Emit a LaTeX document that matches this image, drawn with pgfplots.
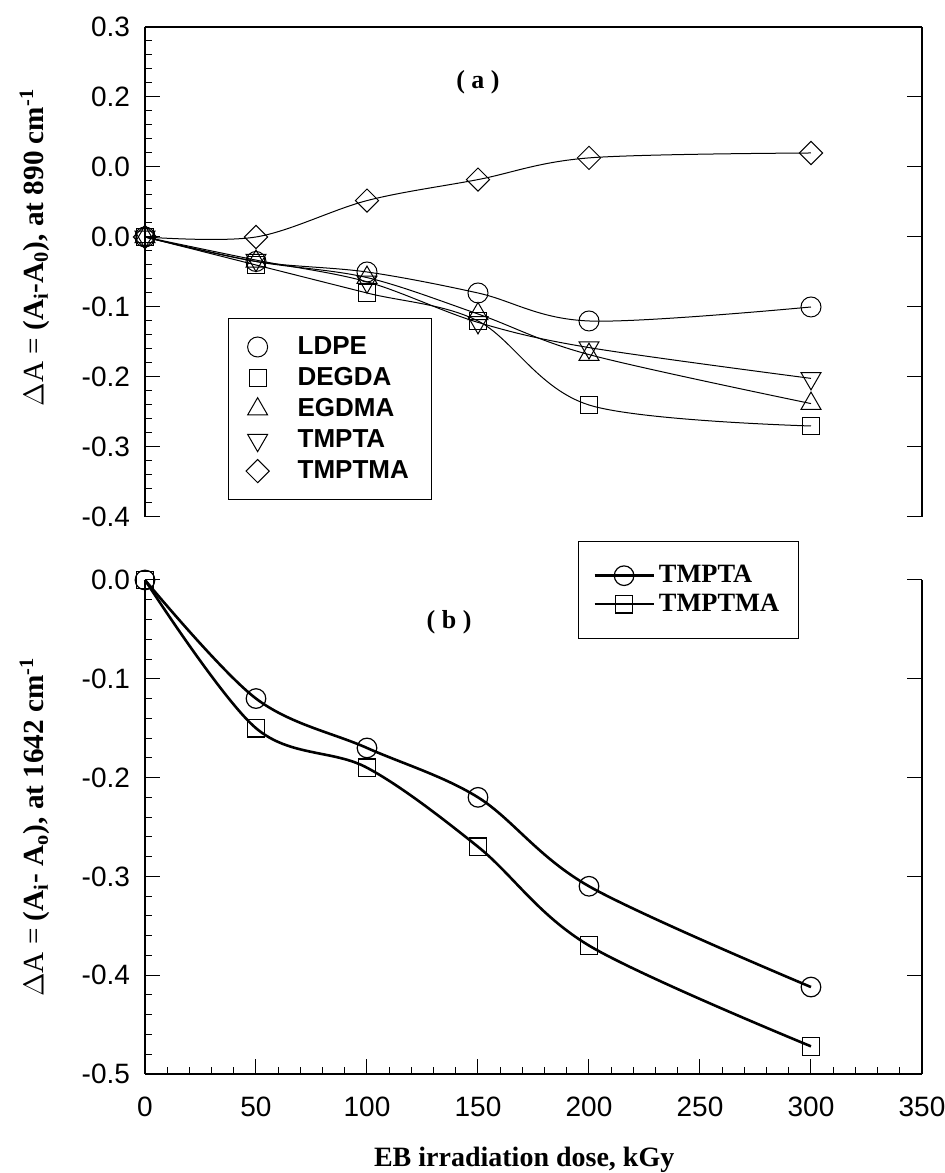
\documentclass[border=0pt]{standalone}
\usepackage{pgfplots}
\pgfplotsset{compat=1.18}
\usepackage{fontspec}
\setmainfont{Liberation Serif}
\newfontfamily\arial{Liberation Sans}

\begin{document}
\begin{tikzpicture}
\useasboundingbox (0,0) rectangle (472pt,586.5pt);
\pgfplotsset{
  common/.style={
    scale only axis, width=388.5pt,
    xmin=0, xmax=350,
    tick align=inside,
    major tick length=7.5pt, minor tick length=3.5pt,
    every tick/.style={black, line width=0.5pt},
    axis line style={line width=1pt},
    /pgf/number format/assume math mode=true,
    ticklabel style={font=\arial\fontsize{14}{16}\selectfont},
    yticklabel style={xshift=-4pt},
    xticklabel style={yshift=-8pt},
    clip=false,
  },
  thinser/.style={black, line width=0.5pt, smooth, tension=0.55,
    mark options={solid, fill=white, line width=0.5pt}},
  thickser/.style={black, line width=1.3pt, smooth, tension=0.55,
    mark options={solid, fill=white, line width=0.6pt}},
}
% ---------------- top panel (a) ----------------
\begin{axis}[common, at={(72.5pt,573pt)}, anchor=north west, height=245pt,
  ymin=-0.4, ymax=0.3,
  axis x line*=top, xtick=\empty,
  axis y line*=left,
  ytick={-0.4,-0.3,-0.2,-0.1,0,0.1,0.2,0.3},
  yticklabels={-0.4,-0.3,-0.2,-0.1,0.0,0.0,0.2,0.3},
  minor y tick num=4,
  ylabel={$\Delta$A = {\bfseries (A\textsubscript{i}-A\textsubscript{0}), at 890 cm\textsuperscript{-1}}},
  every axis y label/.style={at={(axis description cs:-0.142,0.55)}, rotate=90, anchor=center, font=\fontsize{14.6}{16}\selectfont},
  legend image code/.code={\path[draw=none,fill=none] (0pt,-1pt) rectangle (28.5pt,1pt);
    \draw[mark repeat=2,mark phase=2,#1,only marks] plot coordinates {(0pt,0pt) (10.5pt,0pt) (21pt,0pt)};},
  legend style={at={(axis description cs:0.107,0.406)}, anchor=north west, draw=black, line width=0.5pt,
    font=\arial\bfseries\fontsize{13}{15}\selectfont, inner xsep=4pt, inner ysep=7pt, row sep=1pt,
    /tikz/every even column/.append style={column sep=0pt}},
  legend cell align=left,
]
\addplot[thinser, mark=o, mark size=5pt] coordinates {(0,0) (50,-0.035) (100,-0.05) (150,-0.08) (200,-0.12) (300,-0.10)};
\addlegendentry{LDPE}
\addplot[thinser, mark=square, mark size=4.25pt] coordinates {(0,0) (50,-0.04) (100,-0.08) (150,-0.12) (200,-0.24) (300,-0.27)};
\addlegendentry{DEGDA}
\addplot[thinser, mark=triangle, mark size=5.75pt] coordinates {(0,0) (50,-0.035) (100,-0.058) (150,-0.11) (200,-0.168) (300,-0.238)};
\addlegendentry{EGDMA}
\addplot[thinser, mark=triangle, mark size=5.75pt, mark options={rotate=180}] coordinates {(0,0) (50,-0.033) (100,-0.064) (150,-0.122) (200,-0.158) (300,-0.202)};
\addlegendentry{TMPTA}
\addplot[thinser, mark=square, mark size=4.1pt, mark options={rotate=45}] coordinates {(0,0) (50,0) (100,0.052) (150,0.082) (200,0.113) (300,0.12)};
\addlegendentry{TMPTMA\hspace*{5.5pt}}
\node[font=\bfseries\fontsize{13}{15}\selectfont] at (axis cs:150,0.221) {( a )};
\end{axis}
\begin{axis}[common, at={(72.5pt,573pt)}, anchor=north west, height=245pt,
  ymin=-0.4, ymax=0.3,
  axis x line=none, axis y line*=right,
  ytick={-0.4,-0.3,-0.2,-0.1,0,0.1,0.2,0.3}, yticklabels={},
]
\end{axis}
% ---------------- bottom panel (b) ----------------
\begin{axis}[common, at={(72.5pt,296.5pt)}, anchor=north west, height=247pt,
  ymin=-0.5, ymax=0,
  axis x line*=bottom, axis y line*=left,
  xtick={0,50,100,150,200,250,300,350},
  xticklabels={0,50,100,150,200,250,300,350},
  minor x tick num=4,
  ytick={-0.5,-0.4,-0.3,-0.2,-0.1,0},
  yticklabels={-0.5,-0.4,-0.3,-0.2,-0.1,0.0},
  minor y tick num=4,
  xlabel={EB irradiation dose, kGy},
  every axis x label/.style={at={(axis description cs:0.488,-0.174)}, anchor=center, font=\bfseries\fontsize{14}{16}\selectfont},
  ylabel={$\Delta$A = {\bfseries (A\textsubscript{i}- A\textsubscript{o}), at 1642 cm\textsuperscript{-1}}},
  every axis y label/.style={at={(axis description cs:-0.142,0.5)}, rotate=90, anchor=center, font=\fontsize{14.6}{16}\selectfont},
  legend image code/.code={\draw[mark repeat=2,mark phase=2,#1] plot coordinates {(0pt,0pt) (14.75pt,0pt) (29.5pt,0pt)};},
  legend style={at={(axis description cs:0.557,1.079)}, anchor=north west, draw=black, line width=0.5pt,
    font=\bfseries\fontsize{13.2}{15}\selectfont, inner xsep=7.5pt, inner ysep=10pt, row sep=0pt,
    /tikz/every even column/.append style={column sep=11.5pt}},
  legend cell align=left,
]
\addplot[thickser, mark=o, mark size=4.9pt] coordinates {(0,0) (50,-0.12) (100,-0.17) (150,-0.22) (200,-0.31) (300,-0.412)};
\addlegendentry{TMPTA}
\addplot[thickser, mark=square, mark size=4.4pt] coordinates {(0,0) (50,-0.15) (100,-0.19) (150,-0.27) (200,-0.37) (300,-0.472)};
\addlegendentry{TMPTMA}
\node[font=\bfseries\fontsize{13}{15}\selectfont] at (axis cs:137,-0.043) {( b )};
\end{axis}
\begin{axis}[common, at={(72.5pt,296.5pt)}, anchor=north west, height=247pt,
  ymin=-0.5, ymax=0,
  axis x line=none, axis y line*=right,
  ytick={-0.5,-0.4,-0.3,-0.2,-0.1,0}, yticklabels={},
]
\end{axis}
\end{tikzpicture}
\end{document}
